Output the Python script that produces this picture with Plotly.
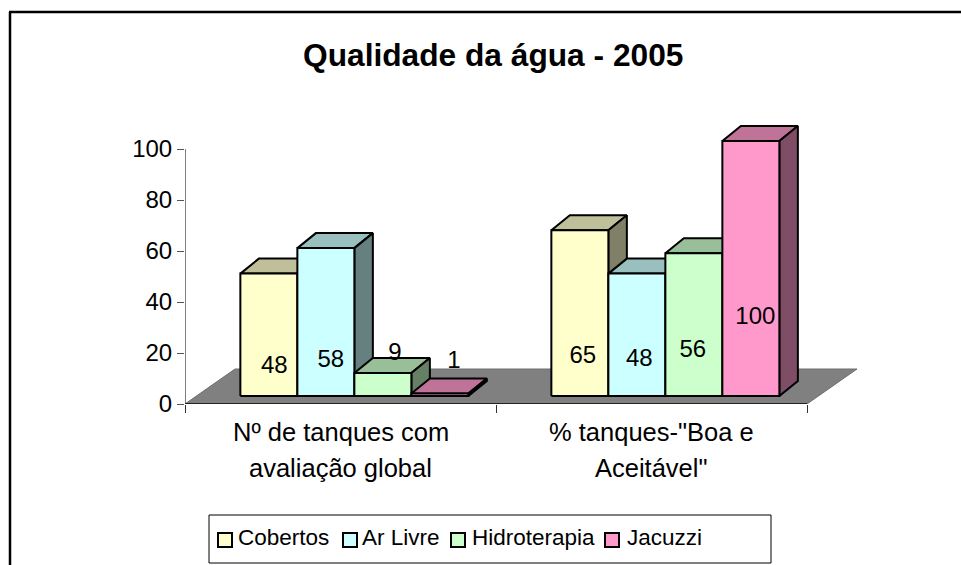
import plotly.graph_objects as go

TITLE = "Qualidade da água - 2005"
CATEGORY_LINES = [["Nº de tanques com", "avaliação global"], ['% tanques-"Boa e', 'Aceitável"']]
SERIES = ["Cobertos", "Ar Livre", "Hidroterapia", "Jacuzzi"]
COBERTOS = [48, 65]
AR_LIVRE = [58, 48]
HIDROTERAPIA = [9, 56]
JACUZZI = [1, 100]
VALUES = [COBERTOS, AR_LIVRE, HIDROTERAPIA, JACUZZI]
Y_TICKS = [0, 20, 40, 60, 80, 100]
FRONT = ["#FFFFCC", "#CCFFFF", "#CCFFCC", "#FF99CC"]
TOP = ["#BFBF99", "#99BFBF", "#99BF99", "#BF7399"]
SIDE = ["#808066", "#668080", "#668066", "#804D66"]

W, H = 961, 565
PX_L, PX_R, PX_T, PX_B = 185, 900, 100, 404
PX_X = 311.0   # px per category
PX_Y = 2.55    # px per value unit
FONT = "Liberation Sans"
FS_TICK = 24
FS_CAT = 25.5
FS_LEG = 22.5

BAR_W = 57 / PX_X
GROUP_START = 0.178
BASE = 8 / PX_Y
DX, DY = 18.5 / PX_X, 15 / PX_Y
FLOOR_DX, FLOOR_DY = 50 / PX_X, 35 / PX_Y

# label offset from bar centre (category units) and height (value units), by series/category
LABEL_DX = [[5.5 / PX_X, 3 / PX_X], [5 / PX_X, 2.5 / PX_X], [12 / PX_X, -1 / PX_X], [14 / PX_X, 4.5 / PX_X]]
LABEL_Y = [[14.5, 18.4], [16.8, 17.2], [19.6, 20.8], [16.4, 33.7]]

fig = go.Figure()


def poly(xs, ys, fill, line="black", width=2):
    fig.add_trace(go.Scatter(x=xs + xs[:1], y=ys + ys[:1], mode="lines", fill="toself",
                             fillcolor=fill, line=dict(color=line, width=width),
                             hoverinfo="skip", showlegend=False, cliponaxis=False))


# floor
poly([0, 2, 2 + FLOOR_DX, FLOOR_DX], [0, 0, FLOOR_DY, FLOOR_DY], "#808080", "#6e6e6e", 1)

# bars, left to right
lx, ly, lt = [], [], []
for c in range(2):
    for s in range(4):
        v = VALUES[s][c]
        x0 = c + GROUP_START + s * BAR_W
        x1 = x0 + BAR_W
        top = BASE + v
        poly([x0, x1, x1 + DX, x0 + DX], [top, top, top + DY, top + DY], TOP[s])
        poly([x1, x1 + DX, x1 + DX, x1], [BASE, BASE + DY, top + DY, top], SIDE[s])
        poly([x0, x1, x1, x0], [BASE, BASE, top, top], FRONT[s])
        lx.append((x0 + x1) / 2 + LABEL_DX[s][c])
        ly.append(LABEL_Y[s][c])
        lt.append(str(v))

# axis lines
fig.add_trace(go.Scatter(x=[0, 0], y=[0, 100], mode="lines", line=dict(color="black", width=1),
                         hoverinfo="skip", showlegend=False, cliponaxis=False))
fig.add_trace(go.Scatter(x=[0, 2], y=[0, 0], mode="lines", line=dict(color="#222222", width=2),
                         hoverinfo="skip", showlegend=False, cliponaxis=False))

# data labels
fig.add_trace(go.Scatter(x=lx, y=ly, text=lt, mode="text", textposition="middle center",
                         textfont=dict(family=FONT, size=FS_TICK, color="black"),
                         hoverinfo="skip", showlegend=False, cliponaxis=False))

annotations = [dict(text=f"<b>{TITLE}</b>", x=492.5 / W, y=1 - 55 / H, xref="paper", yref="paper",
                    showarrow=False, xanchor="center", yanchor="middle",
                    font=dict(family=FONT, size=31.7, color="black"))]
for c, lines in enumerate(CATEGORY_LINES):
    for i, t in enumerate(lines):
        annotations.append(dict(text=t, x=c + 0.5, xref="x", y=1 - (432 + 36 * i) / H, yref="paper",
                                showarrow=False, xanchor="center", yanchor="middle",
                                font=dict(family=FONT, size=FS_CAT, color="black")))

# frame and legend
shapes = [
    dict(type="line", xref="paper", yref="paper", x0=10 / W, x1=10 / W, y0=0, y1=1 - 12 / H,
         line=dict(color="black", width=2.5)),
    dict(type="line", xref="paper", yref="paper", x0=9 / W, x1=1, y0=1 - 12 / H, y1=1 - 12 / H,
         line=dict(color="black", width=2.5)),
    dict(type="rect", xref="paper", yref="paper", x0=209 / W, x1=771 / W, y0=1 - 563 / H, y1=1 - 515 / H,
         line=dict(color="black", width=1), fillcolor="white"),
]
LEG_SWATCH_X = [218, 343, 451, 605]
LEG_TEXT_X = [236, 360, 470, 625]
for s, name in enumerate(SERIES):
    sx = LEG_SWATCH_X[s]
    shapes.append(dict(type="rect", xref="paper", yref="paper", x0=sx / W, x1=(sx + 14) / W,
                       y0=1 - 547 / H, y1=1 - 533 / H, fillcolor=FRONT[s],
                       line=dict(color="black", width=2)))
    annotations.append(dict(text=name, x=LEG_TEXT_X[s] / W, y=1 - 537 / H, xref="paper", yref="paper",
                            showarrow=False, xanchor="left", yanchor="middle",
                            font=dict(family=FONT, size=FS_LEG, color="black")))

fig.update_layout(
    width=W, height=H, autosize=False, showlegend=False,
    margin=dict(l=0, r=0, t=0, b=0), paper_bgcolor="white", plot_bgcolor="rgba(0,0,0,0)",
    font=dict(family=FONT, size=FS_TICK, color="black"),
    annotations=annotations, shapes=shapes,
    xaxis=dict(domain=[PX_L / W, PX_R / W], range=[0, (PX_R - PX_L) / PX_X], showgrid=False, automargin=False,
               zeroline=False, showline=False, tickvals=[0, 1, 2], ticktext=["", "", ""],
               ticks="outside", ticklen=8, tickwidth=1, tickcolor="#333333", fixedrange=True),
    yaxis=dict(domain=[1 - PX_B / H, 1 - PX_T / H], range=[0, (PX_B - PX_T) / PX_Y], showgrid=False, automargin=False,
               zeroline=False, showline=False, tickvals=Y_TICKS, ticks="outside", ticklen=7,
               tickwidth=1, tickcolor="#555555", tickfont=dict(family=FONT, size=FS_TICK), fixedrange=True),
)
fig.write_html("out.html", config=dict(displayModeBar=False),
               post_script="document.body.style.margin='0';document.documentElement.style.overflow='hidden';")
